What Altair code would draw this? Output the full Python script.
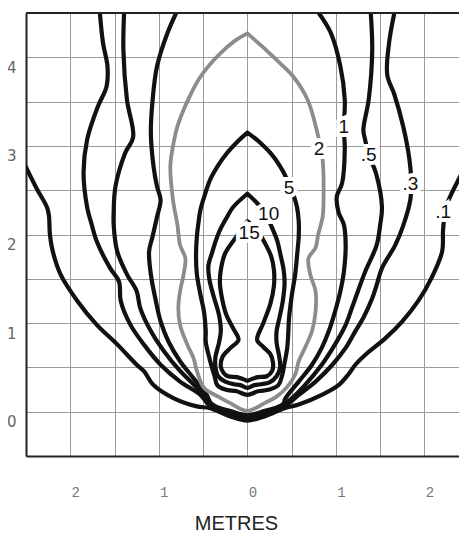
import altair as alt
import pandas as pd

# ---------------- data (metres) ----------------
x_ticks = [-2, -1.5, -1, -0.5, 0, 0.5, 1, 1.5, 2]
y_ticks = [0, 0.5, 1, 1.5, 2, 2.5, 3, 3.5, 4]

c01_x = [-2.55, -2.5, -2.38, -2.26, -2.24, -2.23, -2.2, -2.11, -1.92, -1.70, -1.47, -1.25, -1.17, -1.06, -0.83, -0.57, -0.42,
         -0.2, 0.0, 0.2, 0.42, 0.58, 0.84, 1.03, 1.14, 1.22, 1.33, 1.56, 1.75, 1.93, 2.08, 2.2, 2.21, 2.24, 2.3, 2.4, 2.5, 2.55]
c01_y = [2.86, 2.76, 2.52, 2.30, 2.2, 2.0, 1.82, 1.55, 1.25, 0.98, 0.76, 0.53, 0.46, 0.30, 0.15, 0.06, 0.04,
         -0.05, -0.10, -0.05, 0.04, 0.08, 0.19, 0.30, 0.42, 0.53, 0.64, 0.83, 1.02, 1.25, 1.51, 1.81, 2.05, 2.3, 2.45, 2.65, 2.86, 2.95]

c03_x = [-1.67, -1.63, -1.58, -1.59, -1.69, -1.81, -1.85, -1.81, -1.76, -1.70, -1.55, -1.45, -1.43, -1.32, -1.17, -0.98, -0.76,
         -0.53, -0.42, -0.2, 0.0, 0.2, 0.42, 0.58, 0.77, 0.96, 1.11, 1.22, 1.31, 1.41, 1.46, 1.52, 1.67, 1.76, 1.84, 1.85,
         1.83, 1.76, 1.66, 1.58, 1.60, 1.67]
c03_y = [4.55, 4.16, 3.9, 3.67, 3.44, 3.07, 2.7, 2.31, 2.12, 1.92, 1.62, 1.47, 1.25, 0.98, 0.76, 0.53, 0.34,
         0.19, 0.06, -0.03, -0.08, -0.03, 0.06, 0.19, 0.34, 0.53, 0.72, 0.91, 1.06, 1.28, 1.43, 1.62, 1.88, 2.1, 2.39, 2.6,
         2.85, 3.22, 3.58, 3.8, 4.16, 4.55]

c05_x = [-1.39, -1.40, -1.36, -1.29, -1.38, -1.49, -1.51, -1.51, -1.47, -1.36, -1.25, -1.21, -1.09, -0.94, -0.76, -0.57,
         -0.42, -0.2, 0.0, 0.2, 0.42, 0.50, 0.65, 0.84, 0.99, 1.11, 1.18, 1.22, 1.33, 1.46, 1.50, 1.52, 1.45, 1.37, 1.33,
         1.31, 1.37, 1.41, 1.39]
c05_y = [4.55, 4.08, 3.52, 3.1, 2.92, 2.54, 2.25, 2.11, 1.81, 1.55, 1.36, 1.17, 0.91, 0.68, 0.46, 0.27,
         0.10, -0.01, -0.06, -0.01, 0.09, 0.15, 0.30, 0.53, 0.76, 0.98, 1.17, 1.28, 1.58, 1.88, 2.11, 2.31, 2.7, 2.9, 3.07,
         3.18, 3.52, 4.08, 4.55]

c1_x = [-0.78, -0.90, -1.02, -1.07, -1.09, -1.06, -1.02, -0.98, -1.02, -1.07, -1.11, -1.09, -1.04, -0.98, -0.89, -0.76,
        -0.61, -0.46, -0.40, -0.2, 0.0, 0.2, 0.40, 0.43, 0.58, 0.73, 0.84, 0.92, 0.99, 1.05, 1.09, 1.11, 1.09, 1.03, 1.01,
        1.07, 1.10, 1.09, 1.10, 1.05, 0.94, 0.77]
c1_y = [4.55, 4.28, 3.9, 3.52, 3.15, 2.77, 2.54, 2.39, 2.2, 1.98, 1.81, 1.55, 1.28, 1.02, 0.79, 0.57,
        0.38, 0.19, 0.08, 0.01, -0.04, 0.01, 0.08, 0.15, 0.34, 0.53, 0.72, 0.91, 1.13, 1.36, 1.58, 1.88, 2.11, 2.25, 2.43,
        2.58, 2.96, 3.2, 3.52, 3.9, 4.28, 4.55]

c2_x = [0.0, 0.17, 0.35, 0.52, 0.68, 0.79, 0.85, 0.86, 0.85, 0.80, 0.77, 0.69, 0.71, 0.77, 0.77, 0.73, 0.65, 0.58, 0.54,
        0.45, 0.33, 0.2, 0.0, -0.2, -0.33, -0.49, -0.57, -0.61, -0.68, -0.76, -0.78, -0.76, -0.72, -0.70, -0.76, -0.79,
        -0.84, -0.87, -0.83, -0.79, -0.67, -0.53, -0.33, -0.15, 0.0]
c2_y = [4.27, 4.12, 3.95, 3.78, 3.52, 3.15, 2.84, 2.39, 2.2, 2.0, 1.85, 1.73, 1.55, 1.36, 1.13, 0.91, 0.72, 0.57, 0.42,
        0.28, 0.17, 0.1, 0.01, 0.1, 0.17, 0.27, 0.46, 0.61, 0.76, 0.98, 1.17, 1.36, 1.55, 1.73, 1.88, 2.11,
        2.39, 2.77, 3.05, 3.22, 3.52, 3.78, 4.02, 4.18, 4.27]

c5_x = [0.0, 0.13, 0.26, 0.37, 0.45, 0.52, 0.56, 0.58, 0.58, 0.56, 0.54, 0.50, 0.47, 0.46, 0.45, 0.42, 0.39, 0.35, 0.25,
        0.12, 0.0, -0.12, -0.25, -0.34, -0.37, -0.40, -0.43, -0.47, -0.47, -0.49, -0.53, -0.57, -0.58, -0.57, -0.55,
        -0.53, -0.48, -0.42, -0.33, -0.23, -0.11, 0.0]
c5_y = [3.15, 3.05, 2.92, 2.77, 2.62, 2.45, 2.31, 2.15, 1.98, 1.75, 1.55, 1.3, 1.05, 0.85, 0.72, 0.55, 0.4, 0.3, 0.25,
        0.23, 0.19, 0.23, 0.25, 0.3, 0.4, 0.5, 0.61, 0.79, 0.91, 1.13, 1.32, 1.55, 1.75, 1.98, 2.15,
        2.28, 2.45, 2.62, 2.78, 2.92, 3.05, 3.15]

c10_x = [0.0, 0.15, 0.23, 0.29, 0.34, 0.37, 0.41, 0.42, 0.40, 0.36, 0.33, 0.33, 0.36, 0.37, 0.33, 0.25, 0.15, 0.08, 0.0,
         -0.08, -0.15, -0.25, -0.33, -0.36, -0.36, -0.32, -0.30, -0.32, -0.38, -0.43, -0.44, -0.40, -0.36, -0.31, -0.24,
         -0.16, 0.0]
c10_y = [2.46, 2.31, 2.18, 2.05, 1.92, 1.79, 1.6, 1.45, 1.25, 1.05, 0.91, 0.78, 0.62, 0.5, 0.4, 0.33, 0.31, 0.30, 0.27,
         0.30, 0.31, 0.34, 0.4, 0.5, 0.62, 0.78, 0.91, 1.09, 1.3, 1.5, 1.65, 1.79, 1.92, 2.05, 2.18,
         2.31, 2.46]

c15_x = [0.0, 0.11, 0.2, 0.27, 0.30, 0.30, 0.26, 0.18, 0.11, 0.18, 0.26, 0.29, 0.28, 0.22, 0.12, 0.05, 0.0, -0.05, -0.12,
         -0.22, -0.27, -0.30, -0.28, -0.19, -0.10, -0.16, -0.24, -0.29, -0.31, -0.30, -0.25, -0.12, 0.0]
c15_y = [2.15, 2.05, 1.9, 1.75, 1.6, 1.42, 1.22, 1.0, 0.81, 0.73, 0.65, 0.55, 0.46, 0.40, 0.39, 0.37, 0.35, 0.37, 0.39,
         0.40, 0.44, 0.51, 0.62, 0.72, 0.81, 0.94, 1.1, 1.3, 1.45, 1.6, 1.79, 1.98, 2.15]

label_text = ["1", "2", ".5", "5", ".3", "10", "15", ".1"]
label_x = [1.09, 0.81, 1.37, 0.47, 1.84, 0.24, 0.02, 2.21]
label_y = [3.21, 2.96, 2.90, 2.52, 2.57, 2.23, 2.02, 2.25]

# ---------------- tables ----------------
black_curves = [(".1", c01_x, c01_y), (".3", c03_x, c03_y), (".5", c05_x, c05_y), ("1", c1_x, c1_y),
                ("5", c5_x, c5_y), ("10", c10_x, c10_y), ("15", c15_x, c15_y)]
rows = []
for name, xs, ys in black_curves:
    for i, (a, b) in enumerate(zip(xs, ys)):
        rows.append({"level": name, "i": i, "x": a, "y": b})
black_df = pd.DataFrame(rows)
gray_df = pd.DataFrame({"level": "2", "i": range(len(c2_x)), "x": c2_x, "y": c2_y})
labels_df = pd.DataFrame({"t": label_text, "x": label_x, "y": label_y})

# plot area 433 x 443 px, 88.6 px per metre; page = 8 + 451 x 526 + 8
PLOT_W = 433
xscale = alt.Scale(domain=[-2.5, 2.39], nice=False, zero=False)
yscale = alt.Scale(domain=[-0.5, 4.5], nice=False, zero=False)

x_axis = alt.Axis(values=x_ticks, grid=True, ticks=False, title="METRES",
                  labelExpr="datum.value % 1 == 0 ? abs(datum.value) : ''",
                  labelFont="Liberation Mono", labelFontSize=14, labelColor="#777777",
                  labelPadding=29, labelOffset=5,
                  domainColor="#222222", domainWidth=2,
                  gridColor="#9a9a9a", gridWidth=1,
                  titleFont="Liberation Sans", titleFontSize=20, titleFontWeight="normal",
                  titleColor="#222222", titleX=210, titleY=73, titleBaseline="alphabetic",
                  titleAlign="center", titleAnchor="start")
y_axis = alt.Axis(values=y_ticks, grid=True, ticks=False, title=None,
                  labelExpr="datum.value % 1 == 0 ? datum.value : ''",
                  labelFont="DejaVu Sans", labelFontSize=15, labelColor="#666666",
                  labelPadding=10, labelOffset=10,
                  domainColor="#222222", domainWidth=2,
                  gridColor="#9a9a9a", gridWidth=1)

base_x = alt.X("x:Q", scale=xscale, axis=x_axis)
base_y = alt.Y("y:Q", scale=yscale, axis=y_axis)

black = alt.Chart(black_df).mark_line(
    color="#111111", strokeWidth=4.2, strokeJoin="round", strokeCap="round", clip=True,
    interpolate="catmull-rom"
).encode(x=base_x, y=base_y, detail="level:N", order="i:Q")

gray = alt.Chart(gray_df).mark_line(
    color="#8c8c8c", strokeWidth=3.8, strokeJoin="round", strokeCap="round", clip=True,
    interpolate="catmull-rom"
).encode(x="x:Q", y="y:Q", order="i:Q")

top_frame = alt.Chart(pd.DataFrame({"a": [0]})).mark_rule(
    color="#222222", strokeWidth=2
).encode(x=alt.value(0), x2=alt.value(PLOT_W), y=alt.value(0))

halo = alt.Chart(labels_df).mark_text(
    font="Liberation Sans", fontSize=19, stroke="white", strokeWidth=8, fill="white",
    align="center", baseline="middle"
).encode(x="x:Q", y="y:Q", text="t:N")

text = alt.Chart(labels_df).mark_text(
    font="Liberation Sans", fontSize=19, color="#111111", align="center", baseline="middle"
).encode(x="x:Q", y="y:Q", text="t:N")

chart = alt.layer(black, gray, top_frame, halo, text).properties(
    width=PLOT_W, height=443,
    padding={"left": 18, "top": 5, "right": 0, "bottom": 78},
    autosize=alt.AutoSizeParams(type="none"),
    background="white",
).configure_view(stroke=None)

chart.save("out.html", embed_options={"renderer": "svg", "actions": False})
